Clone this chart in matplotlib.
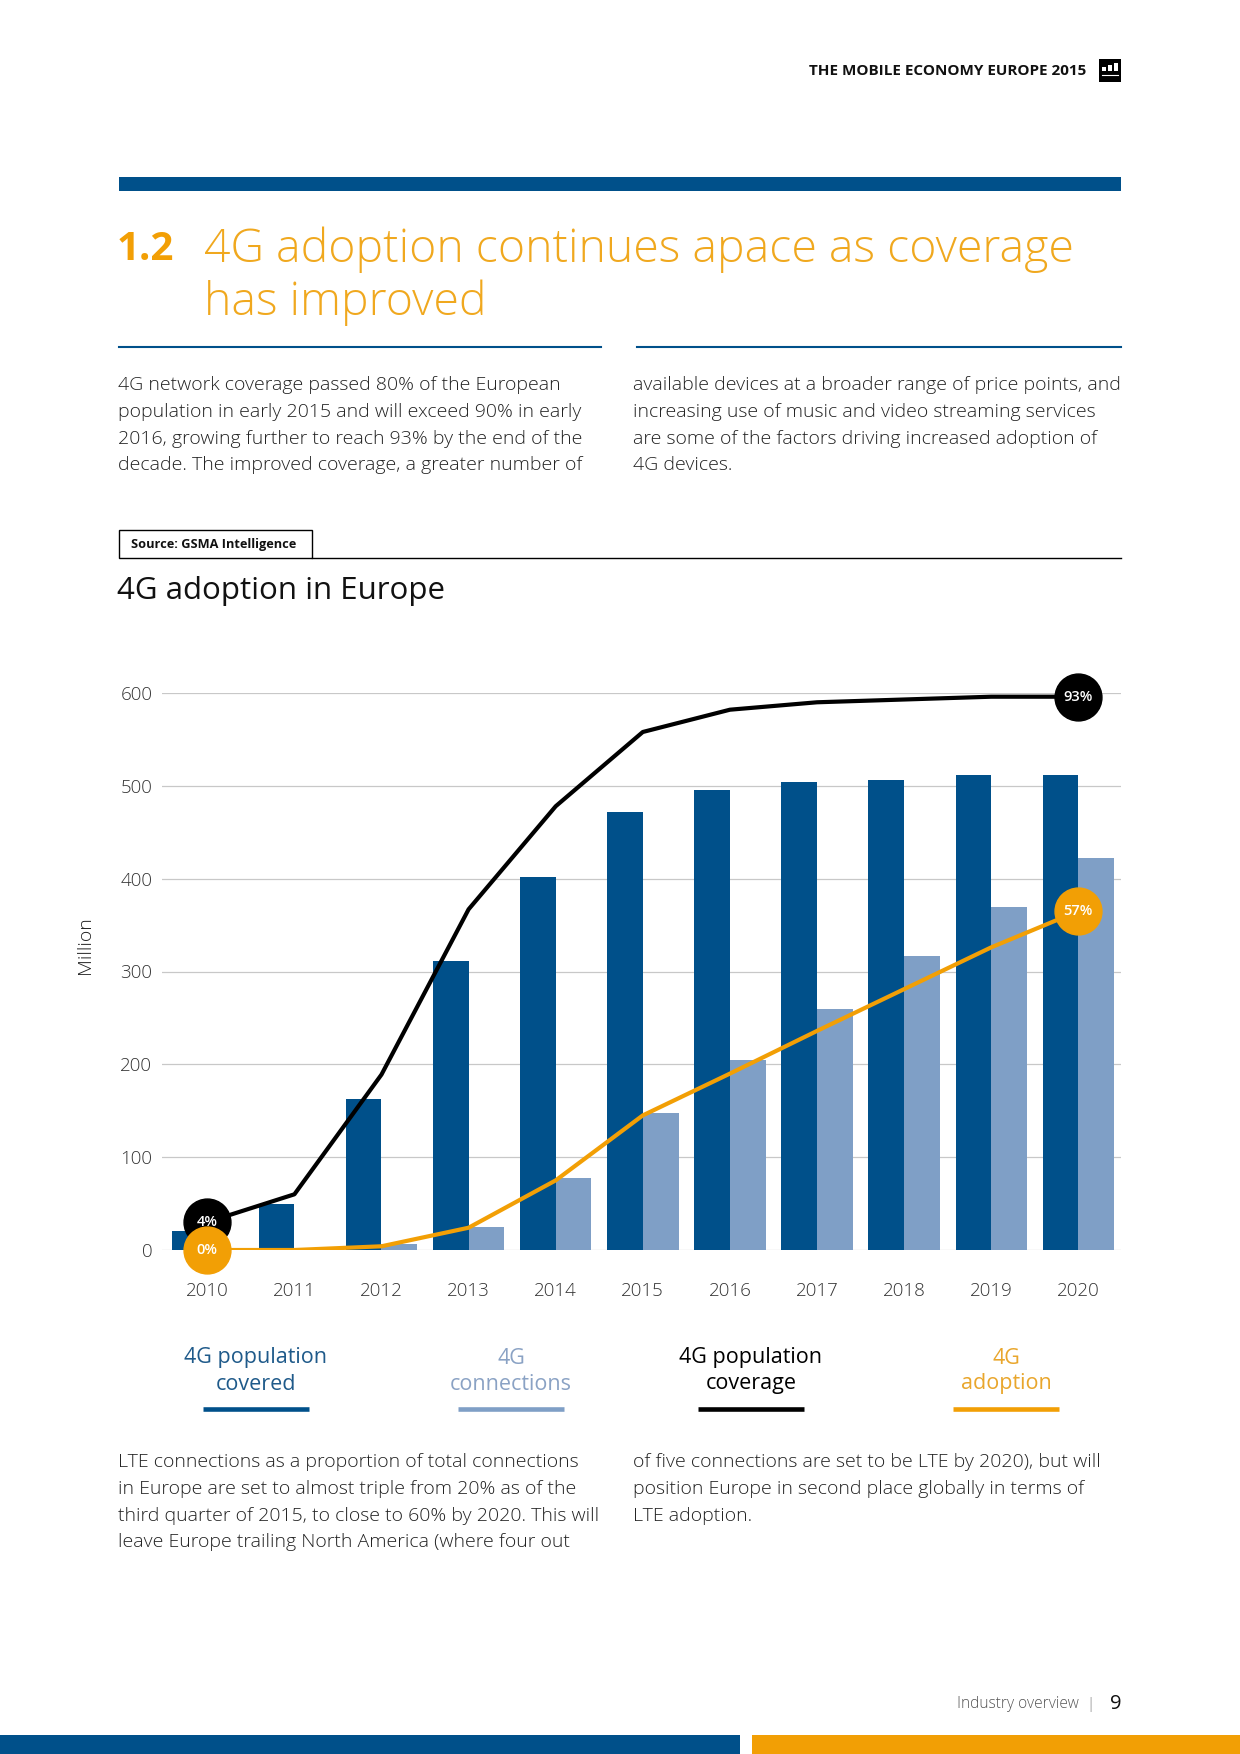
import matplotlib
matplotlib.use("Agg")
import matplotlib.pyplot as plt
from matplotlib.patches import Rectangle
from matplotlib import font_manager
import numpy as np

# pick a family that has a light (300) face
FAM = 'Open Sans'
LIGHT_W = 'normal'
for cand in ['Open Sans', 'Roboto', 'Noto Sans', 'Inter', 'Lato']:
    ws = [f.weight for f in font_manager.fontManager.ttflist if f.name == cand]
    ws = [w if isinstance(w, int) else {'light': 300, 'normal': 400, 'regular': 400}.get(w, 400) for w in ws]
    if 300 in ws:
        FAM = cand
        LIGHT_W = 300
        break
plt.rcParams['font.family'] = [FAM, 'DejaVu Sans']

# ---- data ----
years = ['2010', '2011', '2012', '2013', '2014', '2015', '2016', '2017', '2018', '2019', '2020']
pop_covered = [20, 50, 163, 311, 402, 472, 495, 504, 506, 512, 512]
connections = [0, 1, 7, 25, 78, 148, 205, 260, 317, 370, 422]
pop_coverage = [30, 60, 189, 367, 478, 558, 582, 590, 593, 596, 596]
adoption = [0, 0, 4, 24, 75, 145, 190, 236, 281, 326, 365]
yticks = [0, 100, 200, 300, 400, 500, 600]
legend_labels = ['4G population\ncovered', '4G\nconnections', '4G population\ncoverage', '4G\nadoption']
end_labels_cov = ['4%', '93%']
end_labels_adopt = ['0%', '57%']

DARK = '#00508A'
LIGHT = '#7F9FC6'
ORANGE = '#F29F05'
TITLE_OR = '#F0A81E'

W, H = 1240, 1754
fig = plt.figure(figsize=(W / 100, H / 100), dpi=100)


def P(x, y):
    return x / W, 1 - y / H


def txt(x, y, s, **kw):
    fig.text(*P(x, y), s, **kw)


def rect(x0, y0, x1, y1, **kw):
    fig.patches.append(Rectangle(P(x0, y1), (x1 - x0) / W, (y1 - y0) / H,
                                 transform=fig.transFigure, figure=fig, **kw))


def hline(x0, x1, y, **kw):
    fig.add_artist(plt.Line2D([x0 / W, x1 / W], [1 - y / H, 1 - y / H],
                              transform=fig.transFigure, **kw))


# ---- header ----
txt(1086, 71, 'THE MOBILE ECONOMY EUROPE 2015', ha='right', va='center',
    fontsize=11, fontweight='bold', color='#111111')
rect(1099, 59, 1121, 82, facecolor='black', edgecolor='none')
for i, hh in enumerate([4, 6, 8]):
    rect(1102 + i * 6, 71 - hh, 1106 + i * 6, 71, facecolor='white', edgecolor='none')
hline(1102, 1118, 74.5, color='white', lw=0.8)

rect(118.5, 177, 1121, 191, facecolor=DARK, edgecolor='none')

txt(117, 249, '1.2', ha='left', va='center', fontsize=29, fontweight='bold', color=ORANGE)
txt(204, 250, '4G adoption continues apace as coverage', ha='left', va='center',
    fontsize=33.4, fontweight=LIGHT_W, color=TITLE_OR)
txt(204, 303, 'has improved', ha='left', va='center',
    fontsize=33.4, fontweight=LIGHT_W, color=TITLE_OR)
hline(118.5, 601, 347, color=DARK, lw=1.5)
hline(637, 1121, 347, color=DARK, lw=1.5)

left_para = ["4G network coverage passed 80% of the European",
             "population in early 2015 and will exceed 90% in early",
             "2016, growing further to reach 93% by the end of the",
             "decade. The improved coverage, a greater number of"]
right_para = ["available devices at a broader range of price points, and",
              "increasing use of music and video streaming services",
              "are some of the factors driving increased adoption of",
              "4G devices."]
BODY = dict(ha='left', va='center', fontsize=14, fontweight=LIGHT_W, color='#222222')
for i, s in enumerate(left_para):
    txt(118, 385 + i * 26.8, s, **BODY)
for i, s in enumerate(right_para):
    txt(633, 385 + i * 26.8, s, **BODY)

# source box
rect(118.5, 530, 312, 558, facecolor='none', edgecolor='black', lw=1.0)
hline(312, 1121, 558, color='black', lw=1.0)
txt(131, 545, 'Source: GSMA Intelligence', ha='left', va='center', fontsize=9.2,
    fontweight='bold', color='#111111')
txt(117, 591, '4G adoption in Europe', ha='left', va='center', fontsize=22.5,
    color='#111111')

# ---- chart ----
ax = fig.add_axes([162 / W, 1 - 1250 / H, (1121 - 162) / W, (1250 - 693) / H])
x = np.arange(len(years))
bw = 0.41
ax.bar(x - bw / 2, pop_covered, width=bw, color=DARK, zorder=2)
ax.bar(x + bw / 2, connections, width=bw, color=LIGHT, zorder=2)
ax.plot(x, pop_coverage, color='black', lw=3.0, zorder=3)
ax.plot(x, adoption, color=ORANGE, lw=3.0, zorder=3)

ax.set_xlim(-0.52, 10.49)
ax.set_ylim(0, 600)
ax.set_yticks(yticks)
ax.set_yticklabels([str(v) for v in yticks])
ax.set_xticks(x)
ax.set_xticklabels(years)
ax.tick_params(axis='both', length=0, labelsize=13.5, colors='#333333')
ax.tick_params(axis='x', pad=23)
ax.tick_params(axis='y', pad=7)
for lab in ax.get_xticklabels() + ax.get_yticklabels():
    lab.set_fontweight(LIGHT_W)
ax.grid(axis='y', color='#C8C8C8', lw=0.9, zorder=0)
for sp in ax.spines.values():
    sp.set_visible(False)
ax.set_axisbelow(True)

# end markers (orange drawn over black)
for idx, lab in zip([0, len(years) - 1], end_labels_cov):
    ax.scatter([x[idx]], [pop_coverage[idx]], s=1140, color='black', zorder=4, clip_on=False)
    ax.text(x[idx], pop_coverage[idx], lab, ha='center', va='center', color='white',
            fontsize=10.5, fontweight='semibold', zorder=6, clip_on=False)
for idx, lab in zip([0, len(years) - 1], end_labels_adopt):
    ax.scatter([x[idx]], [adoption[idx]], s=1140, color=ORANGE, zorder=5, clip_on=False)
    ax.text(x[idx], adoption[idx], lab, ha='center', va='center', color='white',
            fontsize=10.5, fontweight='semibold', zorder=6, clip_on=False)

txt(85, 945, 'Million', ha='center', va='center', rotation=90, fontsize=14,
    fontweight=LIGHT_W, color='#222222')

# ---- legend ----
leg_x = [256, 511, 751, 1006]
leg_col = [DARK, LIGHT, 'black', ORANGE]
leg_txt = ['#1F5A8A', '#8AA2C4', 'black', '#E9A62C']
for cx, lab, c, tc in zip(leg_x, legend_labels, leg_col, leg_txt):
    l1, l2 = lab.split('\n')
    txt(cx, 1358, l1, ha='center', va='center', fontsize=15.5, color=tc)
    txt(cx, 1384, l2, ha='center', va='center', fontsize=15.5, color=tc)
    hline(cx - 53, cx + 53, 1409, color=c, lw=3.3, solid_capstyle='butt')

bottom_left = ["LTE connections as a proportion of total connections",
               "in Europe are set to almost triple from 20% as of the",
               "third quarter of 2015, to close to 60% by 2020. This will",
               "leave Europe trailing North America (where four out"]
bottom_right = ["of five connections are set to be LTE by 2020), but will",
                "position Europe in second place globally in terms of",
                "LTE adoption."]
for i, s in enumerate(bottom_left):
    txt(118, 1462 + i * 26.8, s, **BODY)
for i, s in enumerate(bottom_right):
    txt(633, 1462 + i * 26.8, s, **BODY)

# ---- footer ----
txt(1079, 1704, 'Industry overview', ha='right', va='center', fontsize=11.2,
    fontweight=LIGHT_W, color='#555555')
txt(1090, 1704, '|', ha='center', va='center', fontsize=11, fontweight=LIGHT_W, color='#777777')
txt(1116, 1704, '9', ha='center', va='center', fontsize=14.5, color='#111111')
rect(0, 1735, 740, 1754, facecolor=DARK, edgecolor='none')
rect(752, 1735, 1240, 1754, facecolor=ORANGE, edgecolor='none')

fig.savefig('out.png', dpi=100, facecolor='white')
